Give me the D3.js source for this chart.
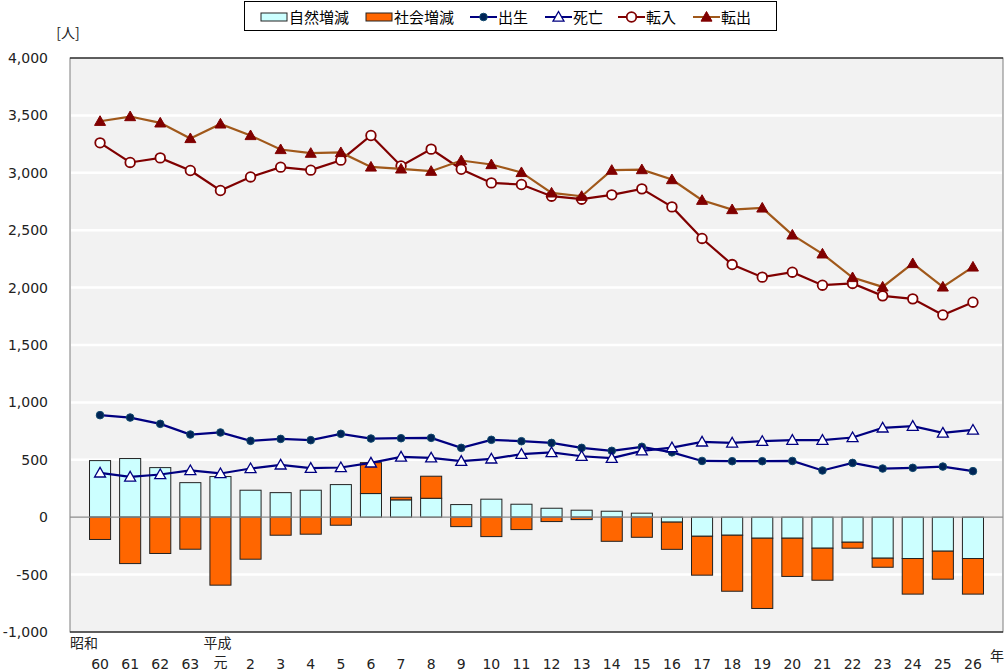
<!DOCTYPE html>
<html>
<head>
<meta charset="utf-8">
<script src="https://cdn.jsdelivr.net/npm/d3@7"></script>
<style>
body { margin: 0; background: #fff; }
svg { font-family: "DejaVu Sans", "Noto Sans CJK JP", sans-serif; }
</style>
</head>
<body>
<div id="chart"></div>
<script>
// categories: years (Showa 60 .. Heisei 26)
const years = ["60","61","62","63","元","2","3","4","5","6","7","8","9","10","11","12","13","14","15","16","17","18","19","20","21","22","23","24","25","26"];

// series values (persons)
const births    = [889,868,813,720,738,665,682,671,726,685, 688,691,604,674,662,647,604,578,613,565, 490,488,488,490,407,473,424,430,441,401];
const deaths    = [386,351,372,407,381,424,456,427,433,473, 525,517,488,508,549,564,531,514,578,606, 656,647,662,671,671,694,778,793,734,760];
const natural   = [493,511,432,301,354,235,214,235,284,206, 151,165,110,157,113,78,61,52,35,-43, -166,-157,-183,-183,-270,-218,-357,-360,-296,-360];
const social    = [-194,-404,-316,-279,-592,-366,-157,-148,-70,269, 23,192,-82,-169,-108,-38,-21,-210,-175,-237, -339,-488,-612,-333,-279,-52,-79,-310,-244,-310];
const moveIn    = [3261,3090,3130,3020,2846,2964,3049,3023,3110,3325, 3060,3206,3031,2912,2898,2796,2770,2808,2860,2703, 2428,2201,2091,2134,2021,2036,1928,1902,1762,1873];
const moveOut   = [3449,3490,3435,3299,3426,3325,3203,3171,3177,3051, 3034,3014,3107,3072,3003,2825,2796,3023,3028,2941, 2761,2680,2694,2459,2294,2088,2006,2210,2006,2180];

// tick labels
const yTicks = [-1000,-500,0,500,1000,1500,2000,2500,3000,3500,4000];
const eraLabels = [{ at: "60", text: "昭和" }, { at: "元", text: "平成" }];

const W = 1005, H = 671;
const plot = { left: 70, right: 1003, top: 58, bottom: 632 };

const svg = d3.select("#chart").append("svg")
	.attr("width", W).attr("height", H);

const x = d3.scaleBand()
	.domain(years)
	.range([85, 988])
	.paddingInner(0.3)
	.paddingOuter(0.15);
const cx = d => x(d) + x.bandwidth() / 2;

const y = d3.scaleLinear()
	.domain([-1000, 4000])
	.range([plot.bottom, plot.top]);

// plot background
svg.append("rect")
	.attr("x", plot.left).attr("y", plot.top)
	.attr("width", plot.right - plot.left).attr("height", plot.bottom - plot.top)
	.attr("fill", "#f2f2f2")
	.attr("stroke", "#7f7f7f");

// gridlines
svg.append("g").selectAll("line")
	.data(yTicks.filter(v => v !== 0 && v !== 4000 && v !== -1000))
	.join("line")
	.attr("x1", plot.left + 1).attr("x2", plot.right - 1)
	.attr("y1", d => y(d)).attr("y2", d => y(d))
	.attr("stroke", "#fff").attr("stroke-width", 2.5);

svg.append("line")
	.attr("x1", plot.left).attr("x2", plot.right)
	.attr("y1", plot.top).attr("y2", plot.top)
	.attr("stroke", "#000");
svg.append("line")
	.attr("x1", plot.left).attr("x2", plot.right)
	.attr("y1", plot.bottom).attr("y2", plot.bottom)
	.attr("stroke", "#000");

// y axis
const yAxis = d3.axisLeft(y)
	.tickValues(yTicks)
	.tickSize(0)
	.tickPadding(22)
	.tickFormat(d => d3.format(",")(d).replace("\u2212", "-"));
svg.append("g")
	.attr("transform", "translate(" + plot.left + ",0)")
	.call(yAxis)
	.call(g => g.select(".domain").remove())
	.selectAll("text")
	.attr("font-size", 14)
	.attr("fill", "#222")
	.attr("font-family", "DejaVu Sans, sans-serif");

svg.append("text")
	.attr("x", 68).attr("y", 38)
	.attr("text-anchor", "middle")
	.attr("font-size", 14)
	.attr("font-family", "Noto Sans CJK JP")
	.attr("fill", "#222")
	.text("[人]");

// stacked bars
const rows = years.map((yr, i) => ({ year: yr, natural: natural[i], social: social[i] }));
const stacked = d3.stack()
	.keys(["natural", "social"])
	.offset(d3.stackOffsetDiverging)(rows);
const barFill = { natural: "#ccffff", social: "#ff6600" };

svg.append("g").selectAll("g")
	.data(stacked)
	.join("g")
	.attr("fill", d => barFill[d.key])
	.attr("stroke", "#222")
	.attr("stroke-width", 1)
	.selectAll("rect")
	.data(d => d)
	.join("rect")
	.attr("x", d => x(d.data.year))
	.attr("width", x.bandwidth())
	.attr("y", d => y(Math.max(d[0], d[1])))
	.attr("height", d => Math.abs(y(d[0]) - y(d[1])));

// zero line
svg.append("line")
	.attr("x1", plot.left).attr("x2", plot.right)
	.attr("y1", y(0)).attr("y2", y(0))
	.attr("stroke", "#8c8c8c").attr("stroke-width", 1.2);

// lines
const line = d3.line()
	.x((d, i) => cx(years[i]))
	.y(d => y(d));

const series = [
	{ name: "出生", values: births,  stroke: "#000080", marker: "dot" },
	{ name: "死亡", values: deaths,  stroke: "#000080", marker: "triW" },
	{ name: "転入", values: moveIn,  stroke: "#800000", marker: "circW" },
	{ name: "転出", values: moveOut, stroke: "#a0581a", marker: "triR" }
];

function drawMarker(g, type, px, py) {
	if (type === "dot") {
		g.append("circle").attr("cx", px).attr("cy", py).attr("r", 3.8)
			.attr("fill", "#002456").attr("stroke", "#124a6e").attr("stroke-width", 1);
	} else if (type === "circW") {
		g.append("circle").attr("cx", px).attr("cy", py).attr("r", 4.8)
			.attr("fill", "#fff").attr("stroke", "#800000").attr("stroke-width", 1.8);
	} else {
		const s = 5.5;
		const pts = [[px, py - s], [px + s, py + s * 0.75], [px - s, py + s * 0.75]];
		g.append("path")
			.attr("d", "M" + pts.join("L") + "Z")
			.attr("fill", type === "triW" ? "#fff" : "#800000")
			.attr("stroke", type === "triW" ? "#000080" : "#800000")
			.attr("stroke-width", type === "triW" ? 1.3 : 1);
	}
}

series.forEach(s => {
	const g = svg.append("g");
	g.append("path")
		.attr("d", line(s.values))
		.attr("fill", "none")
		.attr("stroke", s.stroke)
		.attr("stroke-width", 2.2);
	s.values.forEach((v, i) => drawMarker(g, s.marker, cx(years[i]), y(v)));
});

// x axis labels
svg.append("g").selectAll("text")
	.data(years)
	.join("text")
	.attr("x", d => cx(d))
	.attr("y", d => d === "元" ? 667 : 669)
	.attr("text-anchor", "middle")
	.attr("font-size", 14)
	.attr("fill", "#222")
	.attr("font-family", d => d === "元" ? "Noto Sans CJK JP" : "DejaVu Sans, sans-serif")
	.text(d => d);

// era names above the first year of each era
svg.append("g").selectAll("text")
	.data(eraLabels)
	.join("text")
	.attr("x", (d, i) => i === 0 ? 70 : cx(d.at) - 17)
	.attr("y", 648)
	.attr("font-size", 14)
	.attr("fill", "#222")
	.attr("font-family", "Noto Sans CJK JP")
	.text(d => d.text);

svg.append("text")
	.attr("x", 997).attr("y", 661)
	.attr("text-anchor", "middle")
	.attr("font-size", 14)
	.attr("fill", "#222")
	.attr("font-family", "Noto Sans CJK JP")
	.text("年");

// legend
const legend = svg.append("g");
legend.append("rect")
	.attr("x", 244.5).attr("y", 1.5).attr("width", 532).attr("height", 29)
	.attr("fill", "#fff").attr("stroke", "#000");

const legItems = [
	{ label: "自然増減", kind: "bar", fill: "#ccffff", x0: 261 },
	{ label: "社会増減", kind: "bar", fill: "#ff6600", x0: 366 },
	{ label: "出生", kind: "line", s: series[0], x0: 470 },
	{ label: "死亡", kind: "line", s: series[1], x0: 545 },
	{ label: "転入", kind: "line", s: series[2], x0: 618 },
	{ label: "転出", kind: "line", s: series[3], x0: 693 }
];
legItems.forEach(it => {
	if (it.kind === "bar") {
		legend.append("rect")
			.attr("x", it.x0).attr("y", 13).attr("width", 26).attr("height", 8)
			.attr("fill", it.fill).attr("stroke", "#222");
	} else {
		legend.append("line")
			.attr("x1", it.x0).attr("x2", it.x0 + 27)
			.attr("y1", 17).attr("y2", 17)
			.attr("stroke", it.s.stroke).attr("stroke-width", 2);
		drawMarker(legend, it.s.marker, it.x0 + 13.5, 17);
	}
	legend.append("text")
		.attr("x", it.x0 + 28)
		.attr("y", 23)
		.attr("font-size", 15)
		.attr("font-family", "Noto Sans CJK JP")
		.attr("fill", "#000")
		.text(it.label);
});
</script>
</body>
</html>
